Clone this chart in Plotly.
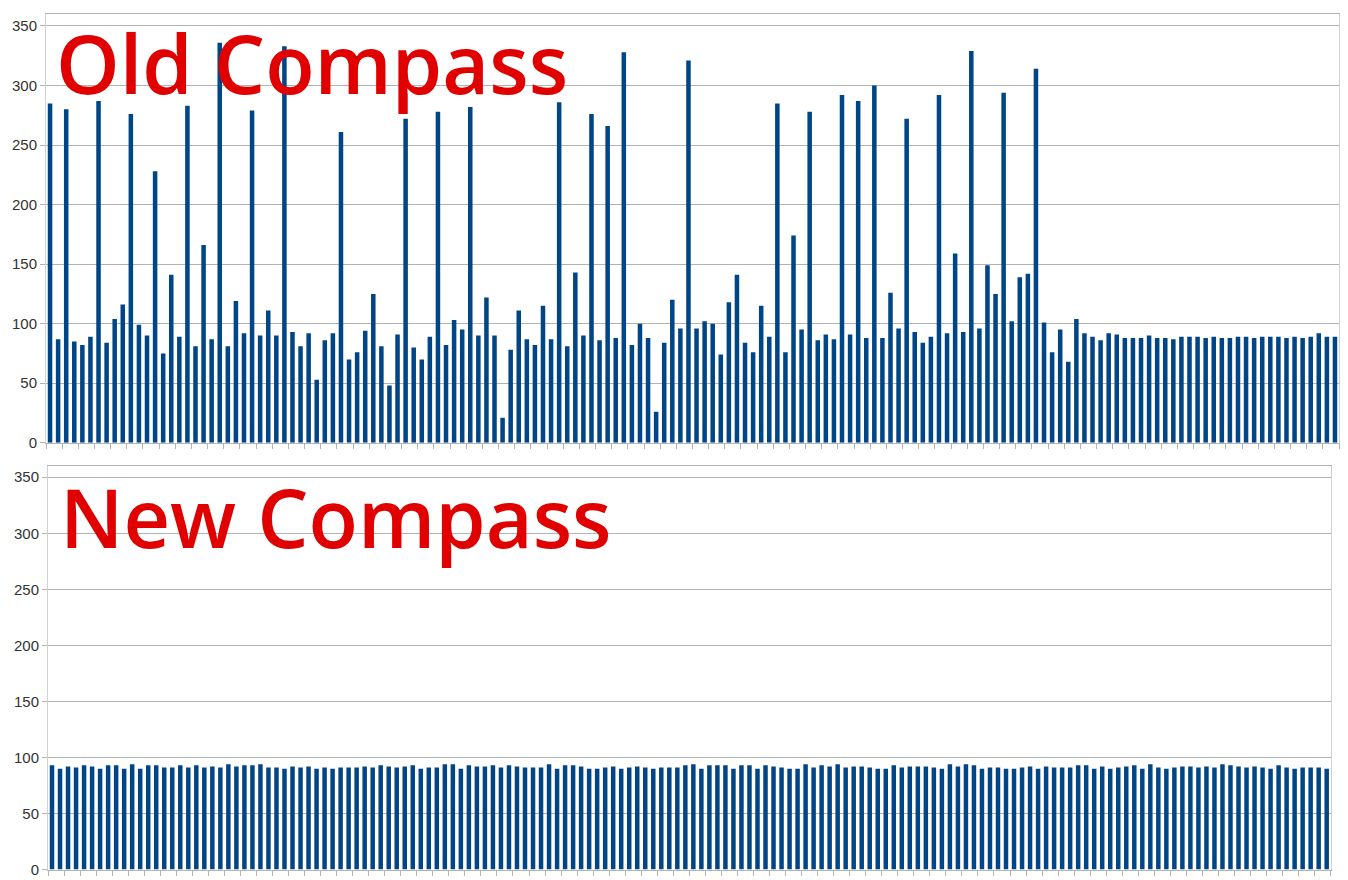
import plotly.graph_objects as go

old_compass = [285, 87, 280, 85, 82, 89, 287, 84, 104, 116, 276, 99, 90, 228, 75, 141, 89, 283, 81, 166,
               87, 336, 81, 119, 92, 279, 90, 111, 90, 333, 93, 81, 92, 53, 86, 92, 261, 70, 76, 94,
               125, 81, 48, 91, 272, 80, 70, 89, 278, 82, 103, 95, 282, 90, 122, 90, 21, 78, 111, 87,
               82, 115, 87, 286, 81, 143, 90, 276, 86, 266, 88, 328, 82, 100, 88, 26, 84, 120, 96, 321,
               96, 102, 100, 74, 118, 141, 84, 76, 115, 89, 285, 76, 174, 95, 278, 86, 91, 87, 292, 91,
               287, 88, 300, 88, 126, 96, 272, 93, 84, 89, 292, 92, 159, 93, 329, 96, 149, 125, 294, 102,
               139, 142, 314, 101, 76, 95, 68, 104, 92, 89, 86, 92, 91, 88, 88, 88, 90, 88, 88, 87,
               89, 89, 89, 88, 89, 88, 88, 89, 89, 88, 89, 89, 89, 88, 89, 88, 89, 92, 89, 89]

new_compass = [93, 90, 92, 91, 93, 92, 90, 93, 93, 90, 94, 90, 93, 93, 91, 91, 93, 91, 93, 91,
               92, 91, 94, 92, 93, 93, 94, 91, 91, 90, 92, 91, 92, 90, 91, 90, 91, 91, 91, 92,
               91, 93, 92, 91, 92, 93, 90, 91, 91, 94, 94, 90, 93, 92, 92, 93, 91, 93, 92, 91,
               91, 91, 94, 90, 93, 93, 92, 90, 90, 91, 92, 90, 91, 92, 91, 90, 91, 91, 91, 93,
               94, 90, 93, 93, 93, 90, 93, 93, 90, 93, 92, 91, 90, 90, 94, 91, 93, 92, 94, 91,
               92, 92, 91, 90, 90, 93, 91, 92, 92, 92, 91, 90, 94, 92, 94, 93, 90, 91, 91, 90,
               90, 91, 92, 90, 92, 91, 91, 91, 93, 93, 90, 92, 90, 91, 92, 93, 90, 94, 91, 90,
               91, 92, 92, 91, 92, 91, 94, 93, 92, 91, 92, 91, 90, 93, 91, 90, 91, 91, 91, 90]

categories = [str(i + 1) for i in range(160)]
y_ticks = [0, 50, 100, 150, 200, 250, 300, 350]
titles = ["Old Compass", "New Compass"]

# html body has an 8px margin; the photographed page is slightly compressed vertically
OFF = 8
SY = 880 / 888
W, H = 1348 - 2 * OFF, 880

def px_x(x):
    return (x - OFF) / W

def px_y(y):
    return 1 - (y / SY - OFF) / H

bar_color = "#004586"
grid_color = "#b3b3b3"
frame_color = "#d0d0d0"

fig = go.Figure()
fig.add_trace(go.Bar(x=categories, y=old_compass, marker=dict(color=bar_color, line=dict(width=0)),
                     xaxis="x", yaxis="y", showlegend=False))
fig.add_trace(go.Bar(x=categories, y=new_compass, marker=dict(color=bar_color, line=dict(width=0)),
                     xaxis="x2", yaxis="y2", showlegend=False))

xcommon = dict(type="category", showticklabels=False, ticks="outside", tickson="boundaries",
               ticklen=5, tickcolor=grid_color, showgrid=False, showline=True,
               linecolor=grid_color, mirror=True, zeroline=False, fixedrange=True)
ycommon = dict(range=[0, 360], tickvals=y_ticks, ticks="outside", ticklen=5, tickcolor=grid_color,
               showgrid=True, gridcolor=grid_color, gridwidth=1, showline=True, linecolor=frame_color,
               mirror=True, zeroline=False, tickfont=dict(family="Liberation Sans", size=15, color="#333333"),
               fixedrange=True)

fig.update_layout(
    width=W, height=H, margin=dict(l=0, r=0, t=0, b=0),
    paper_bgcolor="white", plot_bgcolor="white", bargap=0.44,
    xaxis=dict(domain=[px_x(46), px_x(1339)], anchor="y", **xcommon),
    yaxis=dict(domain=[px_y(442.7), px_y(14)], anchor="x", **ycommon),
    xaxis2=dict(domain=[px_x(48), px_x(1330.7)], anchor="y2", **xcommon),
    yaxis2=dict(domain=[px_y(869.5), px_y(466)], anchor="x2", **ycommon),
)

fig.add_annotation(text=titles[0], xref="paper", yref="paper", x=px_x(54), y=px_y(5),
                   xanchor="left", yanchor="top", showarrow=False,
                   font=dict(family="Open Sans", size=81, color="#e00000", weight=600))
fig.add_annotation(text=titles[1], xref="paper", yref="paper", x=px_x(58), y=px_y(459),
                   xanchor="left", yanchor="top", showarrow=False,
                   font=dict(family="Open Sans", size=81, color="#e00000", weight=600))

fig.write_html("out.html")
